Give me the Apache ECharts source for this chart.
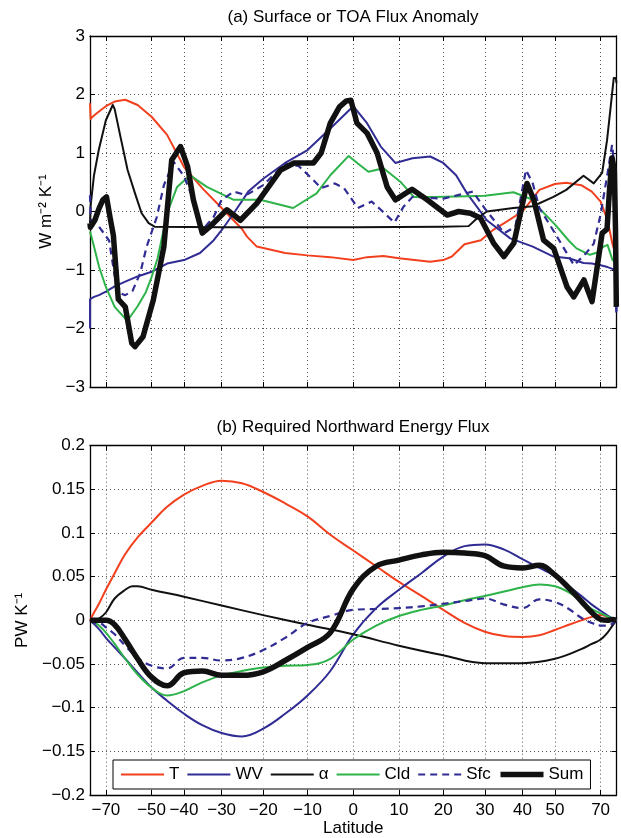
<!DOCTYPE html>
<html><head><meta charset="utf-8">
<script src="https://cdn.jsdelivr.net/npm/echarts@6/dist/echarts.min.js"></script>
<style>html,body{margin:0;padding:0;background:#fff}#c{width:621px;height:838px}</style>
</head><body><div id="c"></div><script>
// ---------- data (latitude in degrees, value) ----------
const latTicks = [-70,-50,-40,-30,-20,-10,0,10,20,30,40,50,70];
const seriesNames = ['T','WV','α','Cld','Sfc','Sum'];

// Panel (a) W m-2 K-1
const a_T = [[-90,1.85],[-86,1.58],[-82,1.62],[-75,1.71],[-70,1.8],[-65,1.88],[-60,1.91],[-55,1.82],[-50,1.62],[-45,1.31],[-40,0.76],[-35,0.4],[-30,0.06],[-25,-0.3],[-23.8,-0.43],[-21.5,-0.6],[-15,-0.71],[-10,-0.75],[-5,-0.78],[0,-0.83],[3,-0.78],[6.6,-0.76],[10,-0.8],[17,-0.86],[20,-0.83],[22,-0.77],[25,-0.56],[29,-0.49],[32,-0.32],[35,-0.2],[40,0.0],[45,0.37],[50,0.47],[54,0.49],[60,0.45],[65,0.34],[70,0.17],[75,-0.15],[80,-0.56],[85,-0.72],[90,-0.75]];
const a_WV = [[-90,-2.0],[-89,-1.5],[-85,-1.47],[-80,-1.46],[-75,-1.43],[-70,-1.37],[-65,-1.28],[-60,-1.2],[-55,-1.11],[-50,-1.03],[-45,-0.89],[-40,-0.83],[-35.6,-0.71],[-32,-0.49],[-30,-0.32],[-27,-0.03],[-23.5,0.34],[-20,0.56],[-15,0.83],[-10,1.05],[-5,1.42],[0,1.8],[3,1.51],[6,1.11],[9.2,0.83],[13,0.91],[17,0.94],[20,0.83],[23,0.62],[25.6,0.31],[30.5,-0.15],[36.6,-0.46],[43,-0.6],[49.5,-0.77],[55,-0.8],[61,-0.88],[65,-0.89],[70,-0.92],[75,-0.95],[80,-0.98],[85,-1.03],[88,-1.1],[90,-1.7]];
const a_alpha = [[-90,-0.2],[-86,0.1],[-80,0.62],[-75,1.07],[-70,1.56],[-66,1.82],[-65,1.75],[-62,1.25],[-59,0.71],[-56,0.31],[-53.5,-0.03],[-51,-0.2],[-49,-0.26],[-30,-0.27],[0,-0.27],[20,-0.26],[26,-0.25],[28,-0.12],[30.5,0.0],[37.5,0.06],[43,0.09],[49.5,0.25],[54,0.37],[61,0.61],[66,0.48],[71,0.66],[74.6,1.22],[78,1.8],[81.7,2.28],[86,2.28],[90,2.2]];
const a_Cld = [[-90,-0.34],[-85,-0.4],[-80,-0.6],[-75,-0.94],[-70,-1.29],[-65,-1.63],[-60,-1.83],[-58.8,-1.85],[-55,-1.62],[-52,-1.38],[-50,-1.12],[-48,-0.8],[-45,-0.03],[-42,0.42],[-38.3,0.62],[-33.8,0.42],[-27,0.2],[-20.7,0.2],[-13.2,0.06],[-8,0.31],[-5,0.62],[-1,0.95],[1,0.82],[3.3,0.68],[6.6,0.74],[10.3,0.51],[13.3,0.25],[17.7,0.25],[25.6,0.26],[30,0.27],[37.5,0.33],[43,0.2],[45,0.05],[50,-0.22],[55,-0.5],[58,-0.63],[64,-0.74],[68,-0.7],[72,-0.6],[75,-0.57],[80,-0.83],[85,-0.86],[90,-0.86]];
const a_Sfc = [[-90,0.28],[-86,-0.1],[-82,-0.2],[-75,-0.26],[-72,-0.35],[-68,-0.5],[-65,-1.1],[-62,-1.4],[-60,-1.43],[-57,-1.36],[-54,-1.05],[-51.7,-0.6],[-48.3,-0.1],[-46,0.45],[-43,0.85],[-40,0.6],[-37,0.14],[-35,-0.32],[-32,-0.09],[-30,0.2],[-27,0.34],[-24,0.28],[-20,0.45],[-15,0.82],[-12,0.78],[-9,0.56],[-7,0.4],[-4,0.48],[-2,0.4],[1,0.06],[4,0.17],[6,0.03],[9,-0.19],[11,0.08],[13,0.25],[20,0.22],[27,0.34],[30,0.05],[35,-0.37],[38,-0.26],[41,0.71],[43,0.48],[45,0.06],[50,-0.37],[57,-0.92],[62,-0.72],[66,-0.55],[70,-0.05],[75,0.65],[79.5,1.14],[81.5,0.9],[84,-0.7],[88,-1.74],[90,-1.74]];
const a_Sum = [[-90,-0.2],[-87,-0.27],[-83,-0.29],[-79,-0.15],[-75,0.05],[-72,0.2],[-69.6,0.25],[-67.5,-0.1],[-65.7,-0.4],[-63.2,-1.5],[-60,-1.63],[-57.3,-2.25],[-56,-2.31],[-53,-2.14],[-49.4,-1.51],[-46,-0.6],[-43.6,0.88],[-41,1.11],[-39,0.77],[-37.4,0.2],[-35,-0.37],[-33,-0.26],[-28.7,0.03],[-25.4,-0.15],[-21.5,0.14],[-16,0.71],[-13,0.83],[-8.7,0.83],[-7,1.0],[-5,1.51],[-3,1.79],[-1.5,1.89],[-0.5,1.9],[0.8,1.51],[3,1.34],[5.2,1.0],[7.4,0.42],[9.2,0.2],[12.9,0.38],[16.3,0.2],[20.9,-0.06],[23.6,0],[26.4,-0.03],[28.9,-0.11],[32.2,-0.54],[34.9,-0.77],[37.6,-0.54],[41.3,0.48],[43.3,0.2],[46.3,-0.49],[49.6,-0.63],[54.3,-1.29],[56.9,-1.46],[61.2,-1.17],[65.1,-1.54],[68.5,-0.83],[71,-0.37],[74.6,-0.3],[76.5,0.3],[79.5,0.92],[82.6,0.71],[85,-0.3],[88,-1.63],[90,-1.63]];

// Panel (b) PW K-1
const b_T = [[-90,0],[-80,0.009],[-75,0.019],[-70,0.035],[-65,0.054],[-60,0.076],[-55,0.095],[-50,0.112],[-45,0.13],[-40,0.144],[-35,0.154],[-30,0.16],[-25,0.157],[-20,0.147],[-15,0.134],[-10,0.119],[-5,0.098],[0,0.08],[5,0.062],[10,0.044],[15,0.028],[20,0.012],[25,-0.003],[30,-0.013],[35,-0.018],[40,-0.019],[45,-0.017],[50,-0.011],[55,-0.005],[60,0.0],[65,0.004],[70,0.006],[75,0.004],[80,0.002],[90,0]];
const b_WV = [[-90,0],[-75,-0.01],[-70,-0.02],[-65,-0.031],[-60,-0.044],[-55,-0.06],[-50,-0.077],[-45,-0.092],[-40,-0.107],[-35,-0.12],[-30,-0.129],[-25,-0.133],[-20,-0.124],[-15,-0.107],[-10,-0.086],[-5,-0.058],[0,-0.016],[5,0.014],[10,0.035],[15,0.054],[20,0.073],[25,0.085],[30,0.087],[35,0.081],[40,0.07],[45,0.06],[50,0.051],[55,0.039],[60,0.028],[65,0.018],[70,0.011],[80,0.002],[90,0]];
const b_alpha = [[-90,0],[-80,0.0],[-75,0.002],[-70,0.009],[-65,0.025],[-60,0.035],[-57,0.039],[-55,0.039],[-50,0.035],[-40,0.027],[-30,0.017],[-20,0.006],[-10,-0.005],[0,-0.016],[10,-0.029],[20,-0.04],[30,-0.049],[40,-0.049],[50,-0.044],[60,-0.033],[65,-0.027],[70,-0.022],[75,-0.014],[80,-0.006],[90,0]];
const b_Cld = [[-90,0],[-80,-0.002],[-75,-0.006],[-70,-0.014],[-65,-0.027],[-60,-0.044],[-55,-0.062],[-50,-0.077],[-45,-0.086],[-40,-0.081],[-35,-0.071],[-30,-0.063],[-25,-0.058],[-20,-0.054],[-15,-0.052],[-10,-0.051],[-5,-0.044],[0,-0.022],[5,-0.006],[10,0.005],[15,0.012],[20,0.017],[25,0.023],[30,0.028],[35,0.033],[40,0.038],[45,0.041],[50,0.039],[55,0.032],[60,0.022],[65,0.013],[70,0.008],[80,0.002],[90,0]];
const b_Sfc = [[-90,0],[-80,-0.003],[-75,-0.003],[-70,-0.008],[-65,-0.016],[-60,-0.029],[-55,-0.043],[-50,-0.052],[-45,-0.055],[-40,-0.043],[-35,-0.043],[-30,-0.046],[-25,-0.043],[-20,-0.034],[-15,-0.02],[-10,-0.003],[-5,0.005],[0,0.012],[5,0.013],[10,0.014],[15,0.016],[20,0.019],[25,0.022],[30,0.025],[35,0.018],[40,0.014],[45,0.024],[50,0.021],[55,0.013],[60,0.003],[65,-0.003],[70,-0.006],[75,-0.006],[90,0]];
const b_Sum = [[-90,0],[-80,0],[-75,0],[-70,0],[-65,-0.005],[-60,-0.022],[-55,-0.044],[-50,-0.065],[-45,-0.075],[-40,-0.06],[-35,-0.058],[-30,-0.063],[-25,-0.063],[-20,-0.059],[-15,-0.046],[-10,-0.031],[-5,-0.014],[0,0.036],[5,0.062],[10,0.069],[15,0.075],[20,0.078],[25,0.077],[30,0.074],[35,0.062],[40,0.06],[45,0.063],[50,0.052],[55,0.037],[60,0.022],[65,0.009],[70,0.001],[75,0],[80,0.001],[90,0]];

// ---------- styling ----------
const FONT = "'Liberation Sans', Arial, Helvetica, sans-serif";
const FS = 17;
const styleOf = {
  'T':   {color:'#f2401f', width:2,   type:'solid'},
  'WV':  {color:'#302c93', width:2,   type:'solid'},
  'α':   {color:'#111111', width:2,   type:'solid'},
  'Cld': {color:'#2eb34a', width:2,   type:'solid'},
  'Sfc': {color:'#302c93', width:2.2, type:[7,5]},
  'Sum': {color:'#111111', width:5.5, type:'solid'}
};
const toSin = lat => Math.sin(lat * Math.PI / 180);
const conv = arr => arr.map(p => [toSin(p[0]), p[1]]);
const tickVals = latTicks.map(toSin);
const minus = s => String(s).replace('-', '\u2212');
const latFmt = v => { const l = Math.round(Math.asin(Math.max(-1, Math.min(1, v))) * 180 / Math.PI); return minus(l); };

const panelA = [a_T, a_WV, a_alpha, a_Cld, a_Sfc, a_Sum];
const panelB = [b_T, b_WV, b_alpha, b_Cld, b_Sfc, b_Sum];

const grids = [
  {left:90, top:36, width:526.5, height:351},
  {left:90, top:445.7, width:526.5, height:351}
];
const gridLine = {show:true, lineStyle:{color:'#555', width:1, type:[1,3]}};
function xAx(gi, pos, labels) {
  return {
    type:'value', gridIndex:gi, position:pos, min:-1, max:1,
    axisLine:{show:true, onZero:false, lineStyle:{color:'#000', width:1.3}},
    axisTick:{show:true, inside:true, length:5, customValues:tickVals, lineStyle:{color:'#000', width:1}},
    axisLabel:{show:labels, customValues:tickVals, formatter:latFmt, color:'#000', fontSize:FS, fontFamily:FONT, margin:7, hideOverlap:false},
    splitLine: pos === 'bottom' ? gridLine : {show:false},
    name: (labels ? 'Latitude' : ''), nameLocation:'middle', nameGap:25,
    nameTextStyle:{color:'#000', fontSize:FS, fontFamily:FONT}
  };
}
function yAx(gi, pos, min, max, interval, dec, name, gap) {
  return {
    type:'value', gridIndex:gi, position:pos, min:min, max:max, interval:interval,
    axisLine:{show:true, onZero:false, lineStyle:{color:'#000', width:1.3}},
    axisTick:{show:true, inside:true, length:5, lineStyle:{color:'#000', width:1}},
    axisLabel:{show:pos === 'left', color:'#000', fontSize:FS, fontFamily:FONT, margin:5,
      formatter: v => minus(parseFloat(v.toFixed(dec)))},
    splitLine: pos === 'left' ? gridLine : {show:false},
    name: pos === 'left' ? name : '', nameLocation:'middle', nameGap:gap, nameRotate:90,
    nameTextStyle:{color:'#000', fontSize:FS, fontFamily:FONT}
  };
}

const series = [];
function addPanel(data, xi, yi, smooth) {
  data.forEach((d, i) => {
    const nm = seriesNames[i], st = styleOf[nm];
    series.push({
      name:nm, type:'line', xAxisIndex:xi, yAxisIndex:yi, data:conv(d),
      symbol:'none', smooth:smooth, clip:true, z: 2 + i,
      lineStyle:{color:st.color, width:st.width, type:st.type, cap:'butt', join:'round'},
      itemStyle:{color:st.color}, emphasis:{disabled:true}
    });
  });
}
addPanel(panelA, 0, 0, false);
addPanel(panelB, 2, 2, 0.4);

const option = {
  animation:false,
  backgroundColor:'#fff',
  textStyle:{fontFamily:FONT},
  grid:grids,
  xAxis:[xAx(0,'bottom',false), xAx(0,'top',false), xAx(1,'bottom',true), xAx(1,'top',false)],
  yAxis:[yAx(0,'left',-3,3,1,0,'W m\u207B\u00B2 K\u207B\u00B9',32), yAx(0,'right',-3,3,1,0,'',0),
         yAx(1,'left',-0.2,0.2,0.05,2,'PW K\u207B\u00B9',56), yAx(1,'right',-0.2,0.2,0.05,2,'',0)],
  legend:{
    data:seriesNames, left:113, top:760, orient:'horizontal',
    itemWidth:43, itemHeight:14, itemGap:7, padding:[6,7],
    backgroundColor:'#fff', borderColor:'#000', borderWidth:1, borderRadius:0,
    textStyle:{color:'#000', fontSize:FS, fontFamily:FONT},
    itemStyle:{opacity:0},
    lineStyle:{width:'inherit', type:'inherit'},
    selectedMode:false
  },
  graphic:[
    {type:'text', x:353, y:17, style:{text:'(a) Surface or TOA Flux Anomaly', fill:'#000', font:FS + 'px ' + FONT, textAlign:'center', textVerticalAlign:'middle'}},
    {type:'text', x:353, y:427, style:{text:'(b) Required Northward Energy Flux', fill:'#000', font:FS + 'px ' + FONT, textAlign:'center', textVerticalAlign:'middle'}}
  ],
  series:series
};
const chart = echarts.init(document.getElementById('c'), null, {renderer:'canvas'});
chart.setOption(option);
</script></body></html>
